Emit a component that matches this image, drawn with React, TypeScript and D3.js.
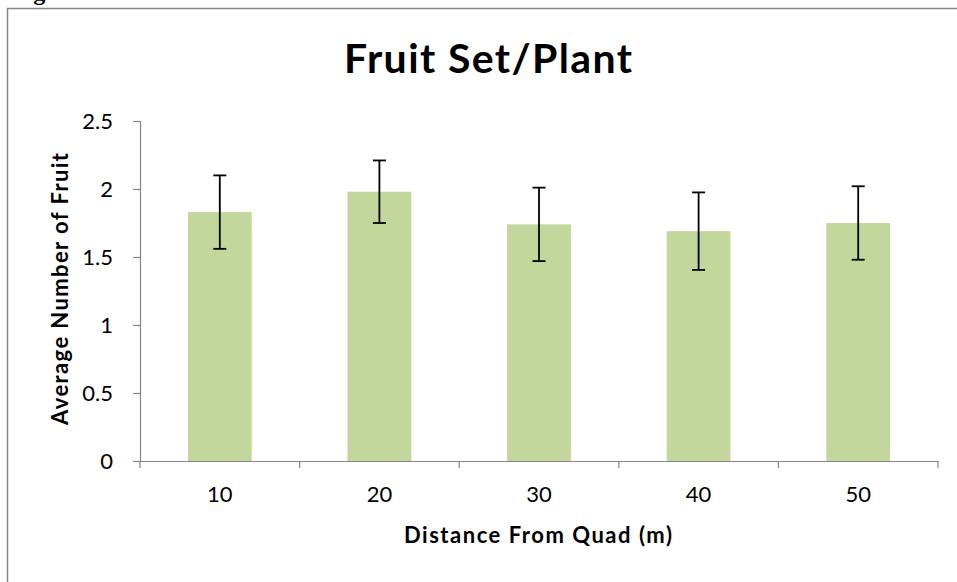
import React, { useEffect, useRef } from "react";
import * as d3 from "d3";

const distances = ["10", "20", "30", "40", "50"];
const meanFruit = [1.83, 1.98, 1.74, 1.69, 1.75];
const errFruit = [0.27, 0.23, 0.27, 0.285, 0.27];
const yTicks = [0, 0.5, 1, 1.5, 2, 2.5];

export default function App() {
  const svgRef = useRef<SVGSVGElement | null>(null);

  useEffect(() => {
    const width = 957;
    const height = 582;
    const svg = d3.select(svgRef.current).attr("width", width).attr("height", height);
    svg.selectAll("*").remove();

    const font = "Lato, 'Open Sans', sans-serif";
    const axisColor = "#868686";

    // --- frame (runs off the right and bottom edges) ---
    svg.append("rect")
      .attr("x", 7.5).attr("y", 8.5)
      .attr("width", 1000).attr("height", 700)
      .attr("fill", "white").attr("stroke", axisColor).attr("stroke-width", 1.5);

    // caption above the frame, mostly cut off like the source
    svg.append("text")
      .attr("x", 12).attr("y", 0)
      .attr("font-family", "'Liberation Serif', serif")
      .attr("font-weight", "bold").attr("font-size", 24)
      .text("Figure 3");

    const margin = { left: 140, right: 19, top: 121, bottom: 121 };
    const x = d3.scaleBand()
      .domain(distances)
      .range([margin.left, width - margin.right])
      .paddingInner(0.6).paddingOuter(0.3);
    const y = d3.scaleLinear().domain([0, 2.5]).range([height - margin.bottom, margin.top]);

    const g = svg.append("g");

    // --- bars ---
    g.selectAll(".bar")
      .data(distances)
      .join("rect")
      .attr("class", "bar")
      .attr("x", d => x(d)!)
      .attr("width", x.bandwidth())
      .attr("y", (d, i) => y(meanFruit[i]))
      .attr("height", (d, i) => y(0) - y(meanFruit[i]))
      .attr("fill", "#c3d69b");

    // --- error bars ---
    const eb = g.selectAll(".err")
      .data(distances)
      .join("g")
      .attr("class", "err")
      .attr("transform", d => `translate(${x(d)! + x.bandwidth() / 2},0)`);
    eb.append("line")
      .attr("y1", (d, i) => y(meanFruit[i] + errFruit[i]))
      .attr("y2", (d, i) => y(meanFruit[i] - errFruit[i]))
      .attr("stroke", "black").attr("stroke-width", 1.8);
    [1, -1].forEach(s => {
      eb.append("line")
        .attr("x1", -6.5).attr("x2", 6.5)
        .attr("y1", (d, i) => y(meanFruit[i] + s * errFruit[i]))
        .attr("y2", (d, i) => y(meanFruit[i] + s * errFruit[i]))
        .attr("stroke", "black").attr("stroke-width", 1.8);
    });

    // --- y axis ---
    const yAxis = g.append("g")
      .attr("transform", `translate(${margin.left},0)`)
      .call(d3.axisLeft(y).tickValues(yTicks).tickSize(7).tickPadding(20)
        .tickFormat(d => String(d)));
    yAxis.select(".domain").attr("stroke", axisColor).attr("stroke-width", 1.2);
    yAxis.selectAll(".tick line").attr("stroke", axisColor).attr("stroke-width", 1.2);
    yAxis.selectAll(".tick text")
      .attr("font-family", font).attr("font-size", 22).attr("fill", "black");

    // --- x axis ---
    const xAxis = g.append("g")
      .attr("transform", `translate(0,${y(0)})`)
      .call(d3.axisBottom(x).tickSize(0).tickPadding(25));
    xAxis.select(".domain").attr("stroke", axisColor).attr("stroke-width", 1.2);
    xAxis.selectAll(".tick text")
      .attr("font-family", font).attr("font-size", 22).attr("fill", "black");
    // category boundary ticks
    const step = x.step();
    const bounds = d3.range(distances.length + 1).map(i => margin.left + i * step);
    xAxis.selectAll(".bound")
      .data(bounds)
      .join("line")
      .attr("class", "bound")
      .attr("x1", d => d).attr("x2", d => d)
      .attr("y1", 0).attr("y2", 7)
      .attr("stroke", axisColor).attr("stroke-width", 1.2);

    // --- titles ---
    svg.append("text")
      .attr("x", 488).attr("y", 73)
      .attr("text-anchor", "middle")
      .attr("font-family", font).attr("font-weight", "bold").attr("font-size", 41)
      .attr("textLength", 288).attr("lengthAdjust", "spacing")
      .text("Fruit Set/Plant");

    svg.append("text")
      .attr("x", 538).attr("y", 543)
      .attr("text-anchor", "middle")
      .attr("font-family", font).attr("font-weight", "bold").attr("font-size", 22)
      .attr("textLength", 268).attr("lengthAdjust", "spacing")
      .text("Distance From Quad (m)");

    svg.append("text")
      .attr("transform", `translate(68,289) rotate(-90)`)
      .attr("text-anchor", "middle")
      .attr("font-family", font).attr("font-weight", "bold").attr("font-size", 22)
      .attr("textLength", 272).attr("lengthAdjust", "spacing")
      .text("Average Number of Fruit");
  }, []);

  return (
    <svg ref={svgRef} style={{ position: "absolute", left: 0, top: 0, display: "block" }}></svg>
  );
}
